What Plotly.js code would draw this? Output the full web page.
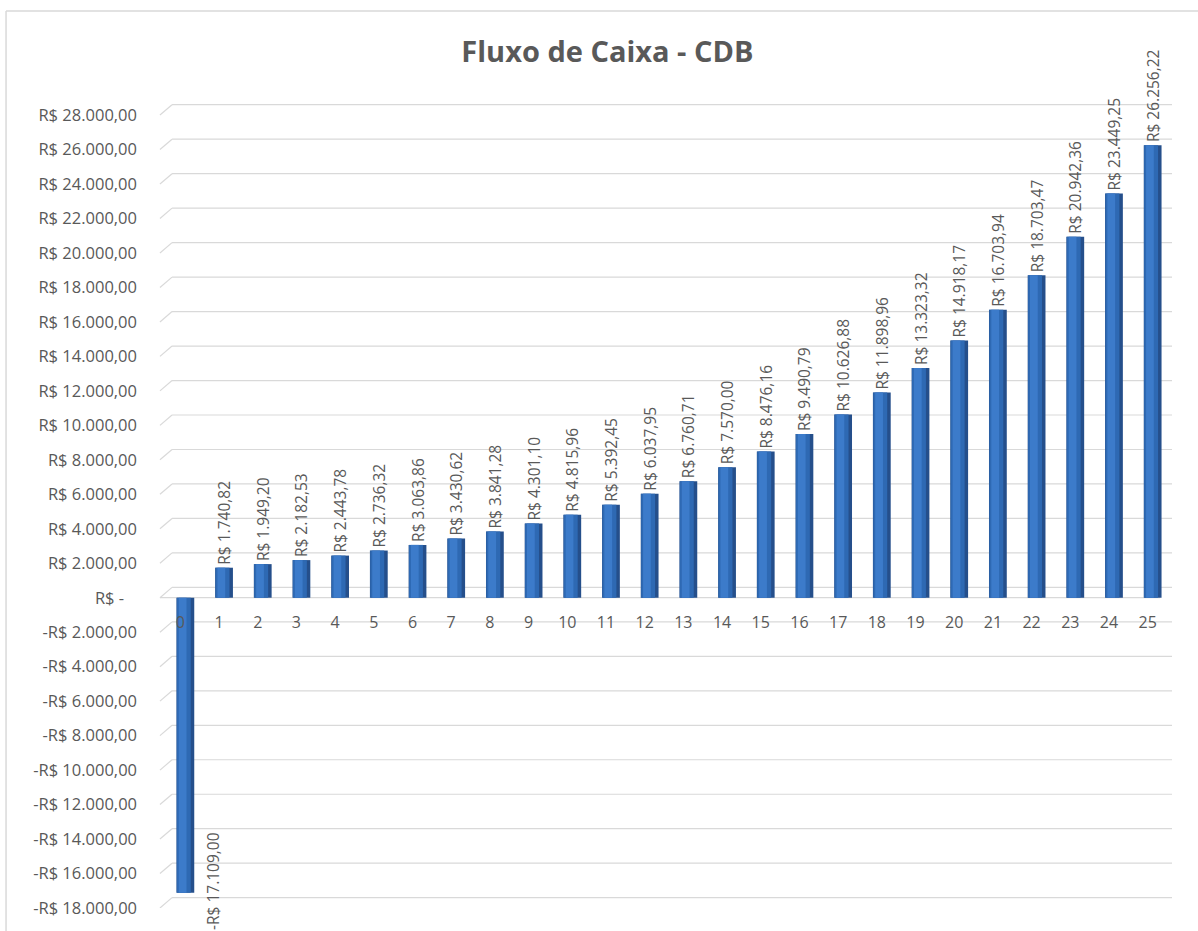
<!DOCTYPE html>
<html>
<head>
<meta charset="utf-8">
<script src="https://cdn.plot.ly/plotly-3.0.1.min.js"></script>
<style>
html,body{margin:0;padding:0;background:#fff;}
#chart{width:1198px;height:931px;}
</style>
</head>
<body>
<div id="chart"></div>
<script>
// ---- data ----
const periods = [0,1,2,3,4,5,6,7,8,9,10,11,12,13,14,15,16,17,18,19,20,21,22,23,24,25];
const cashFlow = [-17109.00,1740.82,1949.20,2182.53,2443.78,2736.32,3063.86,3430.62,3841.28,4301.10,4815.96,5392.45,6037.95,6760.71,7570.00,8476.16,9490.79,10626.88,11898.96,13323.32,14918.17,16703.94,18703.47,20942.36,23449.25,26256.22];
const yTickValues = [-18000,-16000,-14000,-12000,-10000,-8000,-6000,-4000,-2000,0,2000,4000,6000,8000,10000,12000,14000,16000,18000,20000,22000,24000,26000,28000];
const chartTitle = "Fluxo de Caixa - CDB";

// ---- formatting ----
function brl(v, decimals){
  const neg = v < 0;
  const a = Math.abs(v);
  if (a === 0) return "R$ -\u00a0\u00a0\u00a0";
  let s = a.toFixed(decimals === undefined ? 2 : decimals);
  let [ip, dp] = s.split(".");
  ip = ip.replace(/\B(?=(\d{3})+(?!\d))/g, ".");
  return (neg ? "-" : "") + "R$ " + ip + "," + dp;
}

const grey = "#595959";
const font = "'Open Sans', 'Liberation Sans', sans-serif";
const labels = cashFlow.map(v => v < 0 ? "" : brl(v));

const base = {type:"bar", x: periods, y: cashFlow, hoverinfo:"skip", showlegend:false, cliponaxis:false};

const traces = [
  Object.assign({}, base, {width:0.46, marker:{color:"#254F8B"}, text: labels, textposition:"outside", textangle:-90, constraintext:"none", textfont:{family:font, size:15.5, color:grey}}),
  Object.assign({}, base, {width:0.36, offset:-0.22, marker:{color:"#2E69B3"}}),
  Object.assign({}, base, {width:0.2, offset:-0.17, marker:{color:"#3C7BCA"}})
];

// ---- gridlines (3D-look back wall) ----
const backOff = 600;
const shapes = [];
yTickValues.forEach(v => {
  shapes.push({type:"line", xref:"paper", yref:"y", x0:-0.006, x1:0.006, y0:v, y1:v+backOff, line:{color:"#D9D9D9", width:1.2}, layer:"below"});
  shapes.push({type:"line", xref:"paper", yref:"y", x0:0.006, x1:1.0, y0:v+backOff, y1:v+backOff, line:{color:"#D9D9D9", width:1.2}, layer:"below"});
});
// floor front edge
shapes.push({type:"line", xref:"paper", yref:"y", x0:-0.006, x1:0.988, y0:0, y1:0, line:{color:"#D9D9D9", width:1.2}, layer:"below"});
// chart frame
shapes.push({type:"line", xref:"paper", yref:"paper", x0:-0.159, x1:1.1, y0:(931-23-11)/805, y1:(931-23-11)/805, line:{color:"#D9D9D9", width:1.5}});
shapes.push({type:"line", xref:"paper", yref:"paper", x0:-0.159, x1:-0.159, y0:(931-23-11)/805, y1:-0.1, line:{color:"#D9D9D9", width:1.5}});

const annotations = [];
cashFlow.forEach((v,i) => {
  if (v < 0) {
    annotations.push({x: periods[i], y: v, xref:"x", yref:"y", text: brl(v), showarrow:false, textangle:-90,
      xanchor:"center", yanchor:"middle", xshift:27, yshift:12, font:{family:font, size:15.5, color:grey}});
  }
});

const yMin = -18000, yMax = 28700;

const layout = {
  width:1198, height:931,
  margin:{l:166, r:26, t:103, b:23},
  paper_bgcolor:"#fff", plot_bgcolor:"rgba(0,0,0,0)",
  barmode:"overlay",
  title:{text: chartTitle, x:0.507, xanchor:"center", y:1-52/931, yanchor:"middle", yref:"container",
    font:{family:font, size:29, color:grey, weight:"bold"}},
  xaxis:{type:"category", range:[-0.5,25.5], tickvals: periods, ticktext: periods.map(String),
    showgrid:false, zeroline:false, showline:false, ticks:"", anchor:"free", position:(0-yMin)/(yMax-yMin),
    ticklabelstandoff:13, ticklabelshift:-5, tickfont:{family:font, size:16, color:grey}, fixedrange:true},
  yaxis:{range:[yMin,yMax], tickvals: yTickValues, ticktext: yTickValues.map(v => brl(v)),
    showgrid:false, zeroline:false, showline:false, ticks:"", ticklabelstandoff:28,
    tickfont:{family:font, size:16.5, color:grey}, fixedrange:true},
  shapes: shapes,
  annotations: annotations,
  bargap:0.54
};

Plotly.newPlot("chart", traces, layout, {displayModeBar:false, staticPlot:true});
</script>
</body>
</html>
